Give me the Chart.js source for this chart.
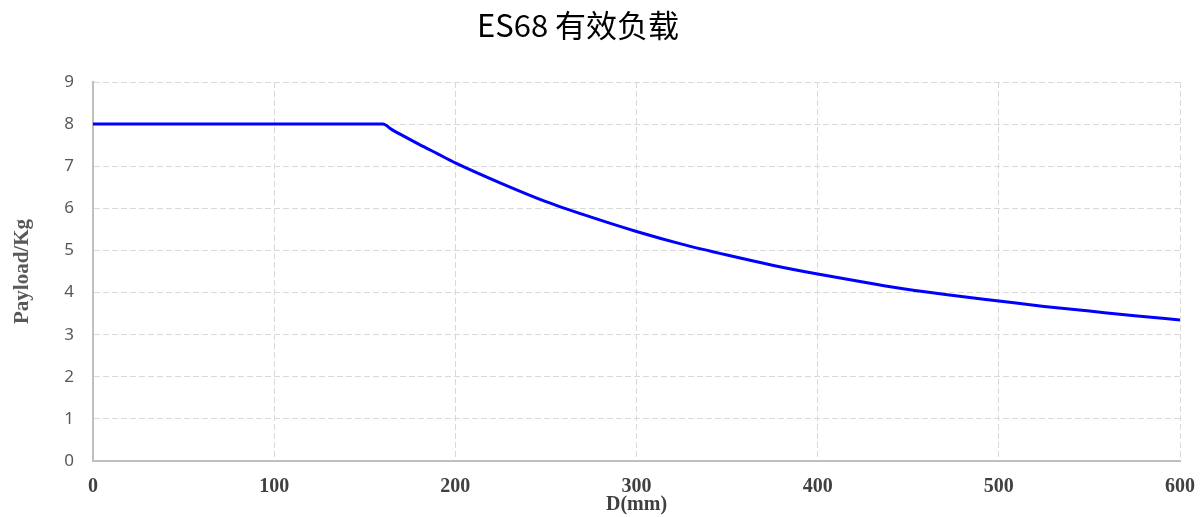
<!DOCTYPE html>
<html>
<head>
<meta charset="utf-8">
<script src="https://cdn.jsdelivr.net/npm/chart.js@4.4.1/dist/chart.umd.min.js"></script>
<style>
  html, body { margin: 0; padding: 0; background: #fff; }
  #wrap { width: 1203px; height: 517px; position: relative; }
</style>
</head>
<body>
<div id="wrap"><canvas id="payloadChart"></canvas></div>
<script>
// values
const chartTitle = 'ES68 有效负载';
const distances = [0, 160, 165, 170, 180, 190, 200, 225, 250, 275, 300, 325, 350, 375, 400, 425, 450, 475, 500, 525, 550, 575, 600];
const payloads = [8, 8, 7.87, 7.75, 7.52, 7.30, 7.08, 6.60, 6.16, 5.79, 5.45, 5.15, 4.89, 4.65, 4.44, 4.25, 4.07, 3.93, 3.80, 3.67, 3.56, 3.45, 3.35];
const xTitle = 'D(mm)';
const yTitle = 'Payload/Kg';

const titlePlugin = {
    id: 'topTitle',
    afterDraw: (chart) => {
        const ctx = chart.ctx;
        ctx.save();
        ctx.fillStyle = '#000';
        ctx.font = '31px "Noto Sans CJK SC"';
        ctx.textAlign = 'center';
        ctx.textBaseline = 'middle';
        ctx.fillText(chartTitle, 578, 25);
        ctx.restore();
    }
};

const ctx = document.getElementById('payloadChart').getContext('2d');

new Chart(ctx, {
    type: 'line',
    data: {
        datasets: [{
            label: 'Payload',
            data: distances.map((d, i) => ({ x: d, y: payloads[i] })),
            borderColor: '#0000ff',
            borderWidth: 3,
            pointRadius: 0,
            fill: false,
            cubicInterpolationMode: 'monotone'
        }]
    },
    options: {
        responsive: true,
        maintainAspectRatio: false,
        animation: false,
        layout: {
            padding: { top: 82, right: 23, bottom: 0, left: 10 }
        },
        scales: {
            x: {
                type: 'linear',
                min: 0,
                max: 600,
                afterFit: (scale) => {
                    scale.height = 56;
                    // let layout padding alone decide the right edge
                    scale.paddingLeft = 0;
                    scale.paddingRight = 0;
                },
                grid: {
                    color: '#d9d9d9',
                    lineWidth: 1,
                    drawTicks: false
                },
                border: {
                    display: true,
                    color: '#bfbfbf',
                    width: 2,
                    dash: [6, 3]
                },
                ticks: {
                    stepSize: 100,
                    padding: 14,
                    maxRotation: 0,
                    color: '#404040',
                    font: { family: '"Liberation Serif"', size: 20, weight: 'bold' }
                },
                title: {
                    display: true,
                    text: xTitle,
                    color: '#404040',
                    padding: 0,
                    font: { family: '"Liberation Serif"', size: 20, weight: 'bold' }
                }
            },
            y: {
                min: 0,
                max: 9,
                afterFit: (scale) => { scale.width = 83; },
                grid: {
                    color: '#d9d9d9',
                    lineWidth: 1,
                    drawTicks: false
                },
                border: {
                    display: true,
                    color: '#bfbfbf',
                    width: 2,
                    dash: [6, 3]
                },
                ticks: {
                    stepSize: 1,
                    padding: 19,
                    color: '#595959',
                    font: { family: '"Noto Sans"', size: 17 }
                },
                title: {
                    display: true,
                    text: yTitle,
                    color: '#595959',
                    padding: 0,
                    font: { family: '"Liberation Serif"', size: 21, weight: 'bold' }
                }
            }
        },
        plugins: {
            legend: { display: false },
            tooltip: { enabled: false }
        }
    },
    plugins: [titlePlugin]
});
</script>
</body>
</html>
